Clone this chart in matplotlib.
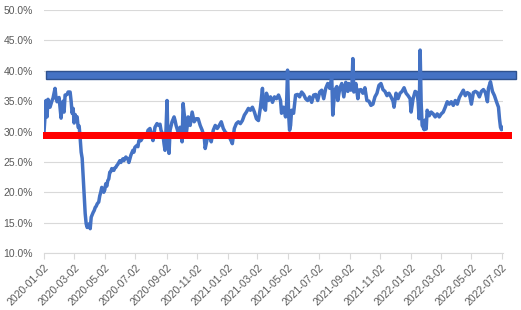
import numpy as np
import matplotlib
matplotlib.use("Agg")
import matplotlib.pyplot as plt
import matplotlib.transforms as mtransforms
from matplotlib.patches import Rectangle
from matplotlib.ticker import FuncFormatter
import datetime as dt

# ---------------- data ----------------
start_date = "2020-01-02"
days_since_start = [
    0, 2, 4, 6, 8, 12, 16, 18, 22, 24, 26, 30, 34, 36, 38, 40, 42, 46, 48, 52,
    54, 56, 58, 60, 62, 64, 66, 68, 70, 72, 74, 76, 78, 80, 82, 84, 86, 88, 90, 92,
    94, 96, 98, 100, 102, 104, 106, 108, 109, 111, 113, 115, 117, 119, 121, 123, 125, 127, 129, 131,
    133, 135, 137, 139, 141, 143, 145, 147, 151, 153, 157, 159, 163, 165, 167, 169, 173, 177, 179, 181,
    185, 187, 189, 193, 197, 201, 205, 207, 211, 213, 217, 219, 221, 225, 229, 231, 233, 237, 239, 241,
    243, 245, 247, 249, 251, 255, 259, 261, 263, 267, 271, 273, 275, 277, 279, 281, 283, 285, 287, 291,
    295, 299, 303, 307, 311, 315, 319, 321, 323, 325, 329, 333, 337, 341, 345, 349, 353, 357, 361, 365,
    369, 373, 375, 379, 383, 387, 391, 395, 399, 403, 407, 411, 415, 419, 423, 427, 431, 435, 437, 441,
    443, 447, 451, 455, 459, 463, 467, 471, 473, 477, 481, 483, 485, 487, 489, 491, 493, 497, 501, 505,
    509, 513, 517, 521, 525, 529, 533, 537, 541, 545, 549, 553, 557, 561, 565, 569, 573, 575, 579, 583,
    585, 589, 593, 597, 601, 605, 607, 611, 613, 615, 617, 621, 625, 627, 631, 635, 639, 643, 647, 651,
    655, 659, 663, 667, 671, 675, 679, 683, 687, 691, 695, 697, 701, 705, 709, 713, 717, 721, 725, 729,
    731, 735, 739, 743, 745, 747, 749, 751, 753, 755, 757, 759, 761, 763, 767, 771, 775, 779, 783, 787,
    791, 795, 799, 803, 807, 811, 815, 819, 823, 827, 831, 835, 839, 843, 847, 851, 855, 859, 863, 867,
    871, 875, 879, 883, 885, 889, 893, 897, 901, 905, 907, 909, 911, 913, 915, 917,
]
values_pct = [
    29.8, 32.5, 35.1, 32.4, 35.3, 34.0, 35.1, 35.5, 37.1, 35.5, 34.9, 35.6, 32.2, 34.3, 35.0, 33.2, 36.0, 36.1, 36.5, 36.5,
    35.0, 33.0, 33.8, 31.4, 32.8, 32.2, 32.4, 30.7, 30.9, 28.9, 26.6, 25.6, 22.5, 19.2, 16.5, 14.8, 14.2, 14.6, 14.8, 14.0,
    15.9, 16.3, 16.7, 17.0, 17.5, 17.7, 18.1, 18.3, 18.4, 19.4, 20.0, 20.8, 20.6, 20.0, 20.4, 21.4, 21.0, 21.9, 22.2, 23.3,
    23.4, 23.9, 23.7, 23.6, 24.0, 24.1, 24.4, 24.6, 25.2, 24.9, 25.5, 25.2, 25.8, 25.6, 25.5, 24.9, 26.1, 26.9, 26.6, 27.4,
    27.7, 27.5, 28.5, 28.5, 29.1, 29.6, 29.4, 30.2, 30.5, 29.8, 28.5, 29.6, 30.7, 31.3, 31.0, 31.2, 30.2, 29.4, 28.0, 26.9,
    30.4, 35.1, 28.0, 26.4, 30.2, 31.6, 32.4, 31.8, 31.0, 29.9, 30.7, 30.0, 28.3, 34.6, 33.0, 31.8, 29.4, 30.8, 32.4, 31.0,
    33.2, 31.6, 32.1, 32.1, 31.0, 30.2, 29.1, 27.2, 28.0, 28.8, 29.6, 28.3, 30.2, 31.0, 30.5, 31.0, 31.6, 30.5, 29.9, 29.6,
    29.1, 28.4, 28.0, 30.5, 31.3, 31.6, 31.3, 31.8, 32.7, 33.2, 33.8, 33.5, 34.0, 33.2, 32.1, 31.8, 34.0, 37.1, 34.0, 33.5,
    36.3, 35.1, 35.7, 34.8, 35.7, 35.4, 36.0, 35.1, 33.0, 34.0, 32.4, 34.3, 40.1, 33.0, 30.2, 31.0, 33.5, 33.0, 36.0, 36.1,
    35.7, 36.5, 36.1, 35.4, 35.1, 35.7, 34.8, 36.0, 36.1, 35.1, 36.5, 36.8, 35.4, 37.1, 37.9, 37.1, 39.0, 32.7, 36.8, 37.4,
    35.1, 37.1, 37.9, 35.7, 38.1, 36.6, 37.9, 36.8, 37.0, 42.0, 36.5, 37.9, 35.4, 36.8, 36.9, 36.3, 37.2, 35.1, 35.0, 34.3,
    34.5, 35.7, 36.3, 37.6, 37.9, 36.9, 36.6, 35.9, 36.3, 35.7, 35.0, 34.0, 36.3, 35.4, 36.3, 36.6, 37.2, 36.3, 35.9, 35.4,
    33.2, 35.4, 36.6, 36.4, 34.9, 32.1, 43.4, 34.8, 31.0, 30.7, 30.3, 31.9, 30.4, 33.5, 32.6, 33.2, 32.9, 32.4, 32.9, 32.4,
    32.9, 33.2, 34.0, 34.9, 34.5, 34.9, 34.3, 35.1, 34.5, 35.6, 36.2, 36.8, 35.9, 36.4, 36.2, 34.5, 36.4, 36.6, 36.4, 35.7,
    36.6, 36.9, 36.4, 34.9, 37.1, 38.2, 36.6, 35.9, 34.9, 34.0, 32.1, 30.7, 30.3, 30.5, 30.7, 31.0,
]
upper_band_pct = (38.7, 39.9)
lower_band_pct = (28.7, 30.0)
x_tick_labels = ["2020-01-02", "2020-03-02", "2020-05-02", "2020-07-02", "2020-09-02",
                 "2020-11-02", "2021-01-02", "2021-03-02", "2021-05-02", "2021-07-02",
                 "2021-09-02", "2021-11-02", "2022-01-02", "2022-03-02", "2022-05-02",
                 "2022-07-02"]
y_ticks_pct = [10, 15, 20, 25, 30, 35, 40, 45, 50]

# ---------------- plot ----------------
plt.rcParams['font.family'] = ['Liberation Sans', 'DejaVu Sans']
W, H, DPI = 521, 310, 100
fig = plt.figure(figsize=(W / DPI, H / DPI), dpi=DPI)
ax = fig.add_axes([44 / W, 1 - 253 / H, (503 - 44) / W, (253 - 10) / H])

t0 = np.datetime64(start_date)
dates = t0 + np.array(days_since_start).astype("timedelta64[D]")
dates = dates.astype("datetime64[ms]").astype(dt.datetime)

line_blue = "#4472C4"

trans = mtransforms.blended_transform_factory(ax.transAxes, ax.transData)
ax.add_patch(Rectangle((0.004, upper_band_pct[0]), 1.024, upper_band_pct[1] - upper_band_pct[0],
                       transform=trans, clip_on=False, facecolor="#4472C4",
                       edgecolor="#2F528F", linewidth=1.0, zorder=3))

ax.plot(dates, values_pct, color=line_blue, linewidth=2.5, zorder=4,
        solid_joinstyle="round", solid_capstyle="round")

ax.add_patch(Rectangle((-0.002, lower_band_pct[0]), 1.022, lower_band_pct[1] - lower_band_pct[0],
                       transform=trans, clip_on=False, facecolor="#FF0000",
                       edgecolor="none", zorder=5))

tick_dates = [dt.datetime.strptime(s, "%Y-%m-%d") for s in x_tick_labels]
ax.set_xlim(dt.datetime(2020, 1, 2), dt.datetime(2022, 7, 4))
ax.set_ylim(10, 50)
ax.set_xticks(tick_dates)
ax.set_xticklabels(x_tick_labels, rotation=45, ha="right", rotation_mode="anchor",
                   fontsize=7.5, color="#595959")
ax.set_yticks(y_ticks_pct)
ax.yaxis.set_major_formatter(FuncFormatter(lambda v, p: f"{v:.1f}%"))
ax.tick_params(axis="y", length=0, labelsize=7.5, labelcolor="#595959", pad=8)
ax.tick_params(axis="x", length=4, color="#D9D9D9", width=0.8, pad=3)

ax.grid(axis="y", color="#D9D9D9", linewidth=0.8, zorder=0)
ax.set_axisbelow(True)
for s in ["top", "right", "left"]:
    ax.spines[s].set_visible(False)
ax.spines["bottom"].set_color("#D9D9D9")
ax.spines["bottom"].set_linewidth(0.8)

fig.savefig("out.png", dpi=DPI)
